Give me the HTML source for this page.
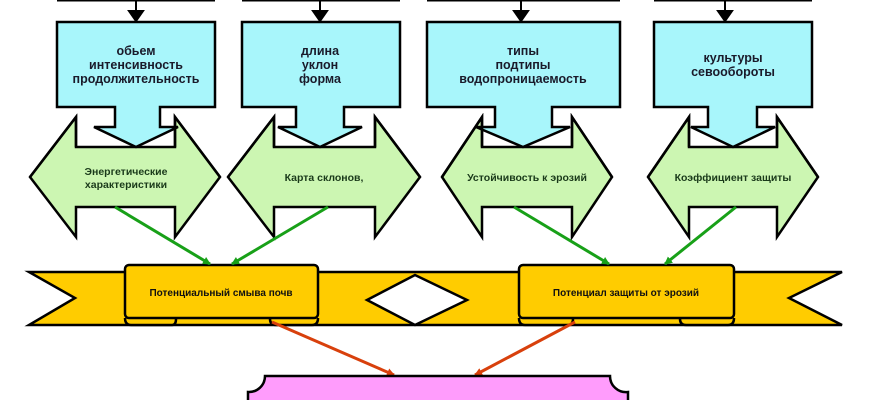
<!DOCTYPE html>
<html><head><meta charset="utf-8"><style>
html,body{margin:0;padding:0;background:#fff;}
svg{display:block}
.c{font-family:"Liberation Sans",sans-serif;font-weight:bold;font-size:12.5px;fill:#1a1a2a;text-anchor:middle}
.g{font-family:"Liberation Sans",sans-serif;font-weight:bold;font-size:10.5px;fill:#1a3a1a;text-anchor:middle}
.y{font-family:"Liberation Sans",sans-serif;font-weight:bold;font-size:10px;fill:#111;text-anchor:middle}
</style></head><body>
<svg width="870" height="400" viewBox="0 0 870 400" xmlns="http://www.w3.org/2000/svg">
<defs>
<marker id="ag" markerWidth="8" markerHeight="8" refX="7" refY="4" orient="auto" markerUnits="userSpaceOnUse"><path d="M0,0 L8,4 L0,8 Z" fill="#18a018"/></marker>
<marker id="ar" markerWidth="8" markerHeight="8" refX="7" refY="4" orient="auto" markerUnits="userSpaceOnUse"><path d="M0,0 L8,4 L0,8 Z" fill="#d8400c"/></marker>
</defs>
<g stroke="#000" stroke-width="3">
<line x1="57" y1="0" x2="215" y2="0"/><line x1="242" y1="0" x2="400" y2="0"/>
<line x1="427" y1="0" x2="620" y2="0"/><line x1="654" y1="0" x2="812" y2="0"/>
</g>
<g fill="#000" stroke="#000" stroke-width="2">
<line x1="136" y1="0" x2="136" y2="12"/><path d="M129,11 L143,11 L136,21 Z"/>
<line x1="320" y1="0" x2="320" y2="12"/><path d="M313,11 L327,11 L320,21 Z"/>
<line x1="521" y1="0" x2="521" y2="12"/><path d="M514,11 L528,11 L521,21 Z"/>
<line x1="725" y1="0" x2="725" y2="12"/><path d="M718,11 L732,11 L725,21 Z"/>
</g>
<g fill="#ccf6b2" stroke="#000" stroke-width="2.5">
<path d="M30,177 L76,117 L76,147 L175,147 L175,117 L220,177 L175,237 L175,207 L76,207 L76,237 Z"/>
<path d="M228,177 L274,117 L274,147 L375,147 L375,117 L420,177 L375,237 L375,207 L274,207 L274,237 Z"/>
<path d="M442,177 L482,117 L482,147 L572,147 L572,117 L612,177 L572,237 L572,207 L482,207 L482,237 Z"/>
<path d="M648,177 L689,117 L689,147 L777,147 L777,117 L818,177 L777,237 L777,207 L689,207 L689,237 Z"/>
</g>
<g fill="#a8f6fb" stroke="#000" stroke-width="2.5">
<path d="M57,22 L215,22 L215,107 L160,107 L160,127 L178,127 L136,147 L94,127 L115,127 L115,107 L57,107 Z"/>
<path d="M242,22 L400,22 L400,107 L344,107 L344,127 L362,127 L320,147 L278,127 L296,127 L296,107 L242,107 Z"/>
<path d="M427,22 L620,22 L620,107 L552,107 L552,127 L570,127 L523,147 L476,127 L495,127 L495,107 L427,107 Z"/>
<path d="M654,22 L812,22 L812,107 L757,107 L757,127 L775,127 L733,147 L691,127 L708,127 L708,107 L654,107 Z"/>
</g>
<!-- redraw head outer edges over cyan -->
<g fill="none" stroke="#000" stroke-width="2.5">
<path d="M76,147 L76,117 L30,177"/><path d="M175,147 L175,117 L220,177"/>
<path d="M274,147 L274,117 L228,177"/><path d="M375,147 L375,117 L420,177"/>
<path d="M482,147 L482,117 L442,177"/><path d="M572,147 L572,117 L612,177"/>
<path d="M689,147 L689,117 L648,177"/><path d="M777,147 L777,117 L818,177"/>
</g>
<text class="c" x="136" y="55">обьем</text><text class="c" x="136" y="69">интенсивность</text><text class="c" x="136" y="83">продолжительность</text>
<text class="c" x="320" y="55">длина</text><text class="c" x="320" y="69">уклон</text><text class="c" x="320" y="83">форма</text>
<text class="c" x="523" y="55">типы</text><text class="c" x="523" y="69">подтипы</text><text class="c" x="523" y="83">водопроницаемость</text>
<text class="c" x="733" y="62">культуры</text><text class="c" x="733" y="76">севообороты</text>
<text class="g" x="126" y="175">Энергетические</text><text class="g" x="126" y="188">характеристики</text>
<text class="g" x="324" y="181">Карта склонов,</text>
<text class="g" x="527" y="181">Устойчивость к эрозий</text>
<text class="g" x="733" y="181">Коэффициент защиты</text>
<path d="M29,272 L842,272 L789,298 L842,325 L29,325 L75,298 Z" fill="#ffcc00" stroke="#000" stroke-width="2.5"/>
<g fill="#ffcc00" stroke="#000" stroke-width="2.5">
<path d="M125,318 Q125,325 131,325 L172,325 Q176,325 176,319"/>
<path d="M270,319 Q270,325 276,325 L312,325 Q318,325 318,318"/>
<path d="M519,318 Q519,325 525,325 L568,325 Q573,325 573,319"/>
<path d="M680,319 Q680,325 686,325 L728,325 Q734,325 734,318"/>
<rect x="125" y="265" width="193" height="53" rx="4"/>
<rect x="519" y="265" width="215" height="53" rx="4"/>
</g>
<path d="M367,300 L415,275 L467,300 L415,325 Z" fill="#fff" stroke="#000" stroke-width="2.5"/>
<text class="y" x="221" y="296">Потенциальный смыва почв</text>
<text class="y" x="626" y="296">Потенциал защиты от эрозий</text>
<g stroke="#18a018" stroke-width="3" marker-end="url(#ag)">
<line x1="115" y1="207" x2="210" y2="264"/>
<line x1="328" y1="207" x2="232" y2="264"/>
<line x1="514" y1="207" x2="609" y2="264"/>
<line x1="736" y1="207" x2="665" y2="264"/>
</g>
<g stroke="#d8400c" stroke-width="3" marker-end="url(#ar)">
<line x1="272" y1="322" x2="394" y2="375"/>
<line x1="575" y1="322" x2="475" y2="375"/>
</g>
<path d="M265,376 L610,376 A16,16 0 0 0 628,392 L628,402 L248,402 L248,392 A16,16 0 0 0 265,376 Z" fill="#ff9cfc" stroke="#000" stroke-width="2.5"/>
</svg>
</body></html>
